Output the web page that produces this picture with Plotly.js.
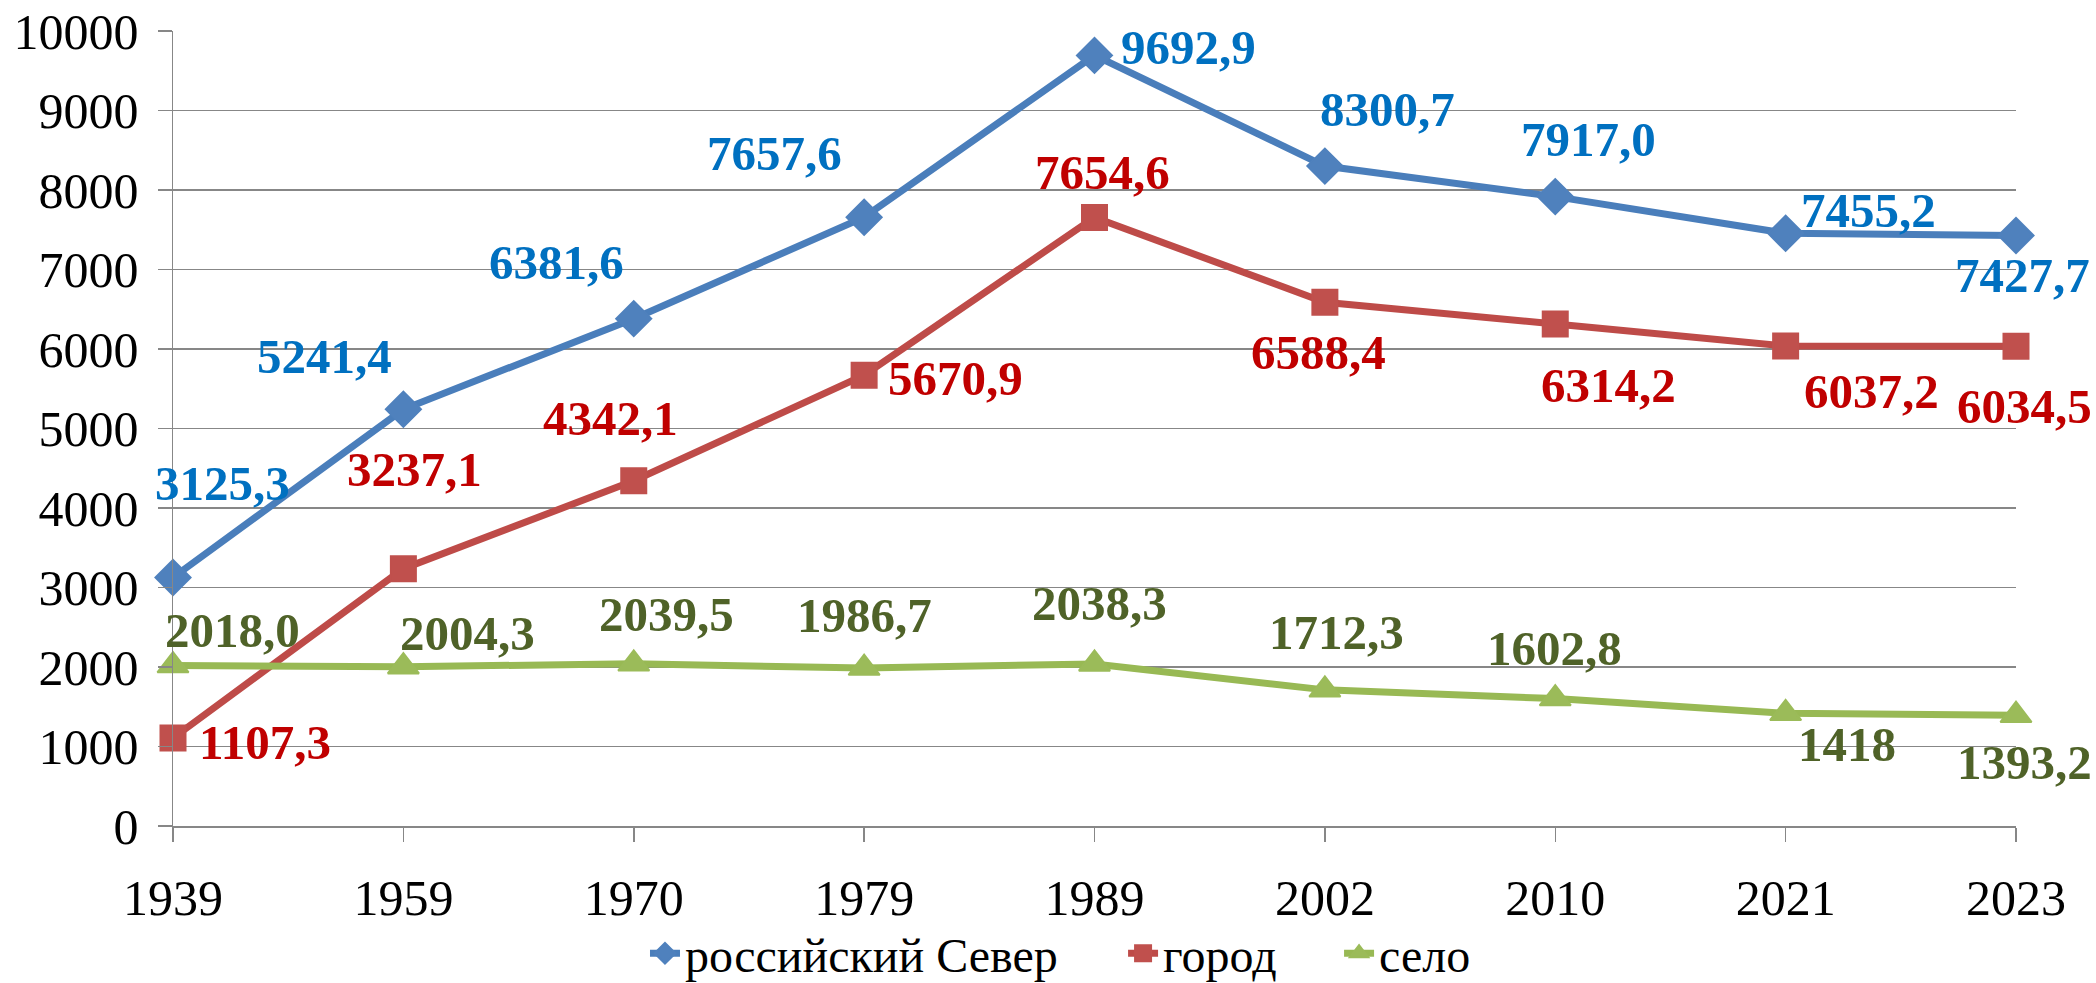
<!DOCTYPE html>
<html>
<head>
<meta charset="utf-8">
<script src="https://cdn.plot.ly/plotly-3.0.1.min.js"></script>
<style>
  html, body { margin: 0; padding: 0; background: #ffffff; }
  #chart { width: 2096px; height: 983px; }
</style>
</head>
<body>
<div id="chart"></div>
<script>
// ---- data ----
const years = ['1939', '1959', '1970', '1979', '1989', '2002', '2010', '2021', '2023'];
const northValues = [3125.3, 5241.4, 6381.6, 7657.6, 9692.9, 8300.7, 7917.0, 7455.2, 7427.7];
const cityValues  = [1107.3, 3237.1, 4342.1, 5670.9, 7654.6, 6588.4, 6314.2, 6037.2, 6034.5];
const villageValues = [2018.0, 2004.3, 2039.5, 1986.7, 2038.3, 1712.3, 1602.8, 1418, 1393.2];
const northLabels = ['3125,3', '5241,4', '6381,6', '7657,6', '9692,9', '8300,7', '7917,0', '7455,2', '7427,7'];
const cityLabels  = ['1107,3', '3237,1', '4342,1', '5670,9', '7654,6', '6588,4', '6314,2', '6037,2', '6034,5'];
const villageLabels = ['2018,0', '2004,3', '2039,5', '1986,7', '2038,3', '1712,3', '1602,8', '1418', '1393,2'];
const seriesNames = ['российский Север', 'город', 'село'];
const yTickValues = [0, 1000, 2000, 3000, 4000, 5000, 6000, 7000, 8000, 9000, 10000];

// ---- label placement (pixel offsets from each point: [dx, dy], dy down) ----
const northOffsets = [[49, -94], [-79, -53], [-77, -56], [-90, -64], [94, -8], [63, -57], [33, -57], [83, -23], [6, 40]];
const cityOffsets  = [[92, 5], [11, -99], [-23, -62], [91, 3], [8, -45], [-6, 50], [53, 61], [86, 45], [8, 60]];
const villageOffsets = [[59, -35], [64, -33], [33, -49], [0, -53], [5, -60], [12, -57], [-1, -50], [61, 31], [8, 47]];
// legend entries: left edge of each entry (fraction of plot width)
const legendX = [0.2561, 0.5155, 0.6327];

const FONT = '"Liberation Serif", "Times New Roman", Times, serif';
const gridColor = '#878787';

const series = [
  { name: seriesNames[0], y: northValues, labels: northLabels, offs: northOffsets,
    line: '#4A7EBB', marker: '#4F81BD', symbol: 'diamond', size: 27, text: '#0070C0' },
  { name: seriesNames[1], y: cityValues, labels: cityLabels, offs: cityOffsets,
    line: '#BE4B48', marker: '#C0504D', symbol: 'square', size: 25, text: '#C00000' },
  { name: seriesNames[2], y: villageValues, labels: villageLabels, offs: villageOffsets,
    line: '#98B954', marker: '#9BBB59', symbol: 'triangle-up', size: 27, text: '#4F6228' }
];
const legendIds = ['legend', 'legend2', 'legend3'];

const traces = series.map((s, k) => ({
  type: 'scatter',
  mode: 'lines+markers',
  name: s.name,
  legend: legendIds[k],
  x: years,
  y: s.y,
  line: { color: s.line, width: 7 },
  marker: { symbol: s.symbol, size: s.size, color: s.marker, line: { color: s.marker, width: 2 } },
  cliponaxis: false,
  hoverinfo: 'skip'
}));

const annotations = [];
series.forEach(s => {
  s.y.forEach((v, i) => {
    annotations.push({
      x: i, y: v, xref: 'x', yref: 'y',
      text: '<b>' + s.labels[i] + '</b>',
      showarrow: false,
      xanchor: 'center', yanchor: 'middle',
      xshift: s.offs[i][0], yshift: -s.offs[i][1],
      font: { family: FONT, size: 49, color: s.text }
    });
  });
});

function legendBox(xpos) {
  return {
    orientation: 'h', x: xpos, xanchor: 'left',
    yref: 'container', y: 0.03, yanchor: 'middle',
    font: { family: FONT, size: 48, color: '#000000' },
    tracegroupgap: 0, bgcolor: 'rgba(0,0,0,0)', borderwidth: 0
  };
}

const layout = {
  width: 2096, height: 983,
  margin: { l: 173, r: 80, t: 31, b: 157, autoexpand: false },
  paper_bgcolor: '#ffffff', plot_bgcolor: '#ffffff',
  font: { family: FONT, size: 50, color: '#000000' },
  showlegend: true,
  legend: legendBox(legendX[0]),
  legend2: legendBox(legendX[1]),
  legend3: legendBox(legendX[2]),
  xaxis: {
    type: 'category', range: [0, 8],
    showgrid: false, zeroline: false,
    showline: true, linecolor: gridColor, linewidth: 1.5,
    ticks: 'outside', ticklen: 14, tickcolor: gridColor, tickwidth: 1.5,
    tickfont: { family: FONT, size: 50, color: '#000000' },
    ticklabelstandoff: 13,
    automargin: false,
    fixedrange: true
  },
  yaxis: {
    range: [0, 10000], tickvals: yTickValues,
    ticktext: yTickValues.map(String),
    showgrid: true, gridcolor: gridColor, gridwidth: 1.5,
    zeroline: false,
    showline: true, linecolor: gridColor, linewidth: 1.5,
    ticks: 'outside', ticklen: 14, tickcolor: gridColor, tickwidth: 1.5,
    tickfont: { family: FONT, size: 50, color: '#000000' },
    ticklabelstandoff: 9,
    automargin: false,
    fixedrange: true
  },
  annotations: annotations
};

Plotly.newPlot('chart', traces, layout, { displayModeBar: false, staticPlot: true });
</script>
</body>
</html>
